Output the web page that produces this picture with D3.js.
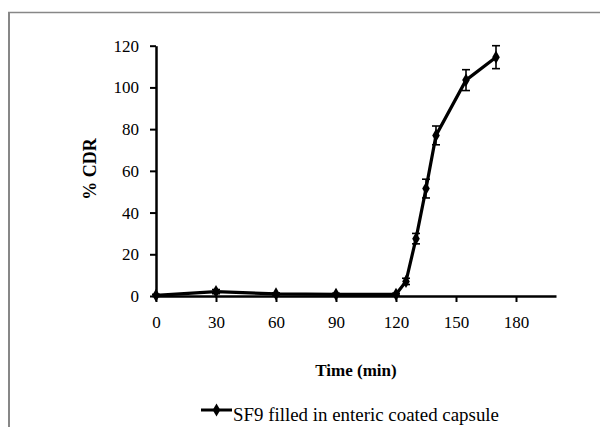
<!DOCTYPE html>
<html>
<head>
<meta charset="utf-8">
<script src="https://cdn.jsdelivr.net/npm/d3@7"></script>
<style>
  body { margin: 0; background: #fff; }
  svg text { font-family: "Liberation Serif", "Times New Roman", Times, serif; fill: #000; }
</style>
</head>
<body>
<div id="chart"></div>
<script>
var W = 600, H = 427;

// data
var timeMin = [0, 30, 60, 90, 120, 125, 130, 135, 140, 155, 170];
var cdr = [0.3, 2.1, 1.0, 0.8, 0.8, 7, 27.5, 51.5, 77, 103.5, 114.5];
var cdrErr = [0.5, 1, 0.5, 0.5, 0.5, 1.5, 2.5, 4.5, 4.5, 5, 5.5];
var xTicks = [0, 30, 60, 90, 120, 150, 180];
var yTicks = [0, 20, 40, 60, 80, 100, 120];
var seriesName = "SF9 filled in enteric coated capsule";

var serif = "'Liberation Serif', 'Times New Roman', Times, serif";

var svg = d3.select("#chart").append("svg")
  .attr("width", W)
  .attr("height", H)
  .attr("font-family", serif);

// outer frame (only top and left edges show in the crop)
svg.append("line").attr("x1", 8).attr("y1", 12.5).attr("x2", W).attr("y2", 12.5)
  .attr("stroke", "#878787").attr("stroke-width", 1.5);
svg.append("line").attr("x1", 9).attr("y1", 12).attr("x2", 9).attr("y2", H)
  .attr("stroke", "#878787").attr("stroke-width", 2);

var x = d3.scaleLinear().domain([0, 200]).range([156, 556]);
var y = d3.scaleLinear().domain([0, 120]).range([296, 45.7]);

var xAxis = svg.append("g")
  .attr("transform", "translate(0," + y(0) + ")")
  .call(d3.axisBottom(x).tickValues(xTicks).tickSize(6).tickSizeOuter(0).tickPadding(14));

var yAxis = svg.append("g")
  .attr("transform", "translate(" + x(0) + ",0)")
  .call(d3.axisLeft(y).tickValues(yTicks).tickSize(6).tickSizeOuter(0).tickPadding(11));

[xAxis, yAxis].forEach(function(ax) {
  ax.attr("font-family", serif).attr("font-size", 17);
  ax.select(".domain").attr("stroke", "#000").attr("stroke-width", 2.5);
  ax.selectAll(".tick line").attr("stroke", "#000").attr("stroke-width", 2);
  ax.selectAll(".tick text").attr("fill", "#000");
});

// axis titles
svg.append("text")
  .attr("x", 356).attr("y", 376)
  .attr("text-anchor", "middle")
  .attr("font-size", 17).attr("font-weight", "bold")
  .text("Time (min)");

svg.append("text")
  .attr("transform", "translate(96,169) rotate(-90)")
  .attr("text-anchor", "middle")
  .attr("font-size", 18).attr("font-weight", "bold")
  .text("% CDR");

var pts = timeMin.map(function(t, i) {
  return { t: t, v: cdr[i], e: cdrErr[i] };
});

// error bars
var eb = svg.append("g").attr("stroke", "#000").attr("stroke-width", 1.6);
pts.forEach(function(d) {
  var cx = x(d.t);
  eb.append("line").attr("x1", cx).attr("x2", cx)
    .attr("y1", y(d.v - d.e)).attr("y2", y(d.v + d.e));
  [d.v - d.e, d.v + d.e].forEach(function(v) {
    eb.append("line").attr("x1", cx - 4).attr("x2", cx + 4)
      .attr("y1", y(v)).attr("y2", y(v));
  });
});

var line = d3.line()
  .x(function(d) { return x(d.t); })
  .y(function(d) { return y(d.v); });

svg.append("path")
  .datum(pts)
  .attr("d", line)
  .attr("fill", "none")
  .attr("stroke", "#000")
  .attr("stroke-width", 3.2);

var diamond = d3.symbol().type(d3.symbolDiamond).size(50);
svg.append("g").selectAll("path")
  .data(pts)
  .enter().append("path")
  .attr("d", diamond)
  .attr("transform", function(d) { return "translate(" + x(d.t) + "," + y(d.v) + ")"; })
  .attr("fill", "#000");

// legend
var lg = svg.append("g").attr("transform", "translate(201,410)");
lg.append("line").attr("x1", 0).attr("x2", 31).attr("y1", 0).attr("y2", 0)
  .attr("stroke", "#000").attr("stroke-width", 3);
lg.append("path").attr("d", diamond).attr("transform", "translate(15.5,0)").attr("fill", "#000");
lg.append("text")
  .attr("x", 32).attr("y", 11)
  .attr("textLength", 266).attr("lengthAdjust", "spacingAndGlyphs")
  .attr("font-size", 19)
  .text(seriesName);
</script>
</body>
</html>
